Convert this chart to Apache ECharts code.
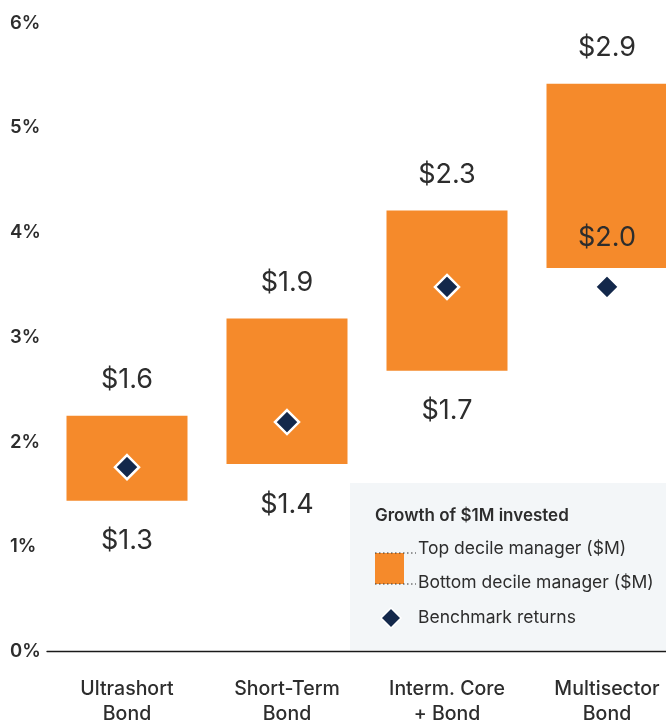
<!DOCTYPE html>
<html><head><meta charset="utf-8">
<script src="https://cdn.jsdelivr.net/npm/echarts@6/dist/echarts.min.js"></script>
<style>html,body{margin:0;padding:0;background:#fff}#c{width:666px;height:720px}</style>
</head><body><div id="c"></div>
<script>
var categories = ['Ultrashort\nBond', 'Short-Term\nBond', 'Interm. Core\n+ Bond', 'Multisector\nBond'];
var bottomDecile = [1.44, 1.79, 2.68, 3.66];
var topDecile = [2.25, 3.18, 4.21, 5.42];
var benchmark = [1.76, 2.19, 3.48, 3.48];
var topLabels = ['$1.6', '$1.9', '$2.3', '$2.9'];
var bottomLabels = ['$1.3', '$1.4', '$1.7', '$2.0'];
var yTicks = [0, 1, 2, 3, 4, 5, 6];

var FONT = 'Inter, "Noto Sans", sans-serif';
var ORANGE = '#F58A2B';
var NAVY = '#13284B';
var TXT = '#2d2d2d';

var chart = echarts.init(document.getElementById('c'));
var baseData = bottomDecile.map(function (v, i) {
  var d = { value: v };
  if (i === 3) d.label = { position: 'top', distance: 17 };
  return d;
});
var rangeData = topDecile.map(function (v, i) { return +(v - bottomDecile[i]).toFixed(4); });

chart.setOption({
  animation: false,
  grid: { left: 47, width: 640, top: 23, bottom: 68.5, containLabel: false, outerBoundsMode: 'none' },
  xAxis: {
    type: 'category', data: categories,
    axisLine: { show: true, lineStyle: { color: '#1a1a1a', width: 1.3 } },
    axisTick: { show: false },
    axisLabel: { color: TXT, fontFamily: FONT, fontSize: 19.5, fontWeight: 500, lineHeight: 25, margin: 25 }
  },
  yAxis: {
    type: 'value', min: yTicks[0], max: yTicks[yTicks.length - 1], interval: 1,
    axisLine: { show: false }, axisTick: { show: false }, splitLine: { show: false },
    axisLabel: { formatter: '{value}%', align: 'left', margin: 37, color: TXT, fontFamily: FONT, fontSize: 18.5, fontWeight: 600 }
  },
  series: [
    {
      type: 'bar', stack: 'r', data: baseData, barWidth: 121,
      itemStyle: { color: 'transparent' },
      label: {
        show: true, position: 'insideTop', distance: 27,
        formatter: function (p) { return bottomLabels[p.dataIndex]; },
        color: TXT, fontFamily: FONT, fontSize: 27
      },
      z: 3
    },
    {
      type: 'bar', stack: 'r', data: rangeData, barWidth: 121,
      itemStyle: { color: ORANGE },
      label: {
        show: true, position: 'top', distance: 22,
        formatter: function (p) { return topLabels[p.dataIndex]; },
        color: TXT, fontFamily: FONT, fontSize: 27
      },
      z: 2
    },
    {
      type: 'scatter', data: benchmark, symbol: 'diamond', symbolSize: [24, 24],
      itemStyle: { color: NAVY, opacity: 1, borderColor: '#fff', borderWidth: 2.5 },
      z: 5
    }
  ],
  graphic: [
    { type: 'rect', shape: { x: 350, y: 483, width: 316, height: 167 }, style: { fill: '#F3F6F8' }, z: 0 },
    { type: 'text', x: 375, y: 516, style: { text: 'Growth of $1M invested', fill: TXT, font: '600 17px ' + FONT, textVerticalAlign: 'middle' }, z: 10 },
    { type: 'rect', shape: { x: 375, y: 553, width: 29, height: 31 }, style: { fill: ORANGE }, z: 10 },
    { type: 'line', shape: { x1: 375, y1: 553, x2: 416, y2: 553 }, style: { stroke: '#333', lineWidth: 1, lineDash: [1.5, 2.5] }, z: 11 },
    { type: 'line', shape: { x1: 375, y1: 584, x2: 416, y2: 584 }, style: { stroke: '#333', lineWidth: 1, lineDash: [1.5, 2.5] }, z: 11 },
    { type: 'text', x: 418, y: 549, style: { text: 'Top decile manager ($M)', fill: TXT, font: '17.5px ' + FONT, textVerticalAlign: 'middle' }, z: 10 },
    { type: 'text', x: 418, y: 583, style: { text: 'Bottom decile manager ($M)', fill: TXT, font: '17.5px ' + FONT, textVerticalAlign: 'middle' }, z: 10 },
    { type: 'polygon', shape: { points: [[391, 608], [401, 618], [391, 628], [381, 618]] }, style: { fill: NAVY, stroke: '#fff', lineWidth: 1.5 }, z: 10 },
    { type: 'text', x: 418, y: 618, style: { text: 'Benchmark returns', fill: TXT, font: '17.5px ' + FONT, textVerticalAlign: 'middle' }, z: 10 }
  ]
});
</script></body></html>
